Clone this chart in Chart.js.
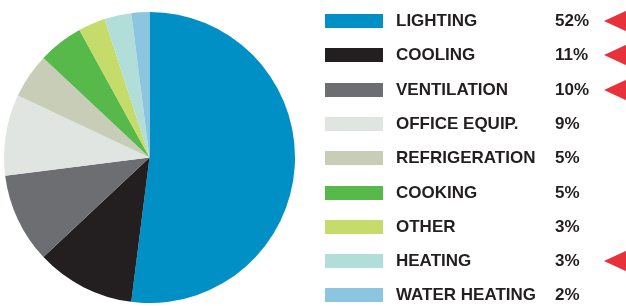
<!DOCTYPE html>
<html>
<head>
<meta charset="utf-8">
<script src="https://cdn.jsdelivr.net/npm/chart.js@4/dist/chart.umd.min.js"></script>
<style>
  html, body { margin: 0; padding: 0; background: #fff; }
  body { width: 626px; height: 306px; position: relative; overflow: hidden;
         font-family: "Liberation Sans", Arial, Helvetica, sans-serif; }
  #pieBox { position: absolute; left: 4px; top: 12px; width: 291px; height: 291px; }
  .row { position: absolute; left: 0; width: 626px; height: 14px; }
  .swatch { position: absolute; left: 325px; top: 0; width: 58px; height: 14px; }
  .label, .pct { position: absolute; top: -3px; font-weight: bold; font-size: 17px;
                 line-height: 20px; color: #231f20; white-space: nowrap; }
  .label { left: 396px; }
  .pct { left: 555px; }
  .arrow { position: absolute; left: 604px; top: -5px; width: 0; height: 0;
           border-top: 12px solid transparent; border-bottom: 12px solid transparent;
           border-right: 26px solid #e8313a; }
</style>
</head>
<body>
<div id="pieBox"><canvas id="energyPie"></canvas></div>
<div id="legend"></div>

<script>
// kategoriler ve yüzdeler
const categories = ['LIGHTING', 'COOLING', 'VENTILATION', 'OFFICE EQUIP.', 'REFRIGERATION',
                    'COOKING', 'OTHER', 'HEATING', 'WATER HEATING'];
const shares = [52, 11, 10, 9, 5, 5, 3, 3, 2];
const percentLabels = ['52%', '11%', '10%', '9%', '5%', '5%', '3%', '3%', '2%'];
const flagged = [true, true, true, false, false, false, false, true, false];

const sliceColors = ['#0090c6', '#231f20', '#6d6e71', '#e1e5e1', '#c7cdb6',
                     '#57b94a', '#c5db6a', '#b1ded9', '#8cc5e0'];

new Chart(document.getElementById('energyPie'), {
    type: 'pie',
    data: {
        labels: categories,
        datasets: [{
            data: shares,
            backgroundColor: sliceColors,
            borderWidth: 0
        }]
    },
    options: {
        responsive: true,
        maintainAspectRatio: false,
        animation: false,
        layout: { padding: 0 },
        plugins: {
            legend: { display: false },
            tooltip: { enabled: false }
        }
    }
});

// sağdaki açıklama listesi
const legendDiv = document.getElementById('legend');
categories.forEach((name, i) => {
    const row = document.createElement('div');
    row.className = 'row';
    row.style.top = (14 + i * 34.3) + 'px';

    const sw = document.createElement('div');
    sw.className = 'swatch';
    sw.style.background = sliceColors[i];
    row.appendChild(sw);

    const lbl = document.createElement('div');
    lbl.className = 'label';
    lbl.textContent = name;
    row.appendChild(lbl);

    const pct = document.createElement('div');
    pct.className = 'pct';
    pct.textContent = percentLabels[i];
    row.appendChild(pct);

    if (flagged[i]) {
        const arrow = document.createElement('div');
        arrow.className = 'arrow';
        row.appendChild(arrow);
    }
    legendDiv.appendChild(row);
});
</script>
</body>
</html>
